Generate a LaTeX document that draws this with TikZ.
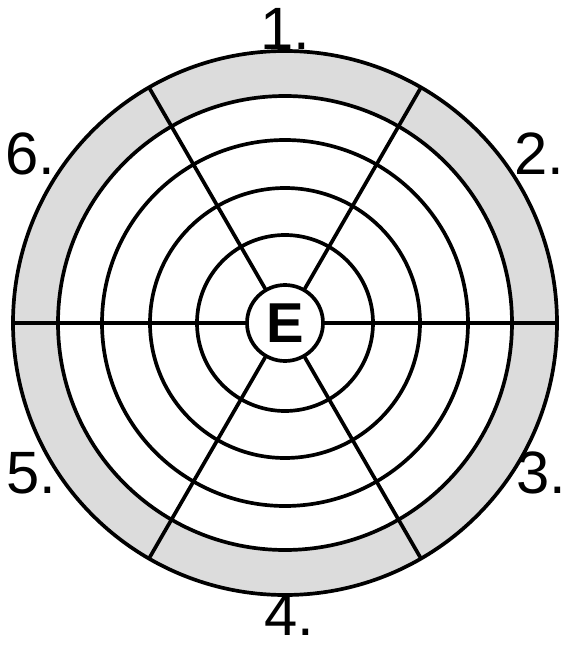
\documentclass[tikz,border=0pt]{standalone}
\usepackage{fontspec}
\setmainfont{Liberation Sans}
\definecolor{bandgray}{HTML}{DCDCDC}
\tikzset{
  every picture/.style={line join=round, line cap=round},
  ring/.style={line width=2.1pt},
  spoke/.style={line width=2.1pt},
  num/.style={anchor=base west, inner sep=0pt, font=\fontsize{34}{34}\selectfont},
}
\begin{document}
\begin{tikzpicture}
\useasboundingbox (-5.700,-6.440) rectangle (5.600,6.460);
% outer band
\fill[bandgray] (0,0) circle[radius=5.440];
\fill[white] (0,0) circle[radius=4.540];
\foreach \r in {5.440,4.540,3.660,2.700,1.760}
  \draw[ring] (0,0) circle[radius=\r];
\node[circle,draw,ring,minimum size=1.520cm,inner sep=0pt,font=\bfseries\fontsize{32}{32}\selectfont] (E) at (0,0) {E};
% spokes
\foreach \a in {0,60,120,180,240,300}{
  \coordinate (rim\a) at (\a:5.440);
  \draw[spoke] (E.\a) -- (rim\a);
}
% sector numbers
\node[num] (lab1) at (-0.500,5.460) {1.};
\node[num] (lab2) at (4.580,2.960) {2.};
\node[num] (lab3) at (4.620,-3.400) {3.};
\node[num] (lab4) at (-0.420,-6.240) {4.};
\node[num] (lab5) at (-5.580,-3.400) {5.};
\node[num] (lab6) at (-5.600,2.960) {6.};
\end{tikzpicture}
\end{document}
